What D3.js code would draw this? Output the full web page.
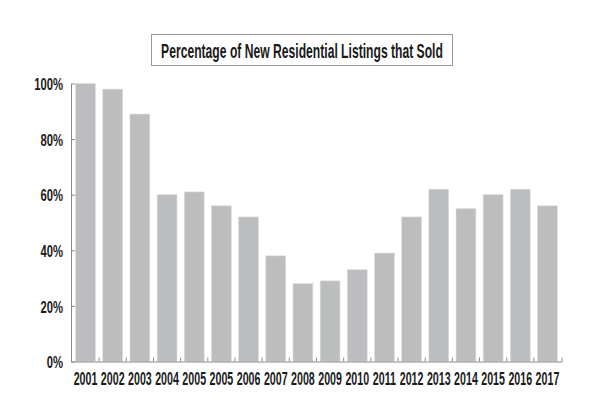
<!DOCTYPE html>
<html>
<head>
<meta charset="utf-8">
<script src="https://cdn.jsdelivr.net/npm/d3@7"></script>
<style>
  html, body { margin: 0; padding: 0; background: #fff; }
  svg { display: block; }
  text { font-family: "Liberation Sans Narrow", "Arial Narrow", sans-serif; fill: #1a1a1a; }
</style>
</head>
<body>
<svg id="chart" width="600" height="400"></svg>
<script>
const title = "Percentage of New Residential Listings that Sold";
const categories = ["2001","2002","2003","2004","2005","2005","2006","2007","2008","2009","2010","2011","2012","2013","2014","2015","2016","2017"];
const values = [100, 98, 89, 60, 61, 56, 52, 38, 28, 29, 33, 39, 52, 62, 55, 60, 62, 56];
const yTicks = [0, 20, 40, 60, 80, 100];

const svg = d3.select("#chart");
const margin = { left: 71, right: 38, top: 83.5, bottom: 38.5 };
const W = 600, H = 400;
const sx = 0.66;
const sxX = 0.61;

const x = d3.scaleBand()
  .domain(d3.range(categories.length))
  .range([margin.left, W - margin.right])
  .paddingInner(0.27)
  .paddingOuter(0.17);

const y = d3.scaleLinear()
  .domain([0, 100])
  .range([H - margin.bottom, margin.top]);

// Title box
const tg = svg.append("g");
tg.append("rect")
  .attr("x", 151.5).attr("y", 34.5)
  .attr("width", 301).attr("height", 31)
  .attr("fill", "#fff").attr("stroke", "#999").attr("stroke-width", 1);
const tt = tg.append("text")
  .attr("x", 0).attr("y", 0)
  .attr("text-anchor", "middle")
  .attr("font-size", 20)
  .attr("font-weight", "bold")
  .text(title);
const tlen = tt.node().getComputedTextLength();
tt.attr("transform", `translate(302,57.7) scale(${282 / tlen},1)`);

// Bars
svg.append("g").selectAll("rect")
  .data(values)
  .join("rect")
  .attr("x", (d, i) => x(i))
  .attr("width", x.bandwidth())
  .attr("y", d => y(d))
  .attr("height", d => y(0) - y(d))
  .attr("fill", "#bcbdbf")
  .attr("stroke", "#dcdcdc")
  .attr("stroke-width", 0.6);

// Y axis
const yAxis = svg.append("g")
  .attr("transform", `translate(${margin.left},0)`)
  .call(d3.axisLeft(y).tickValues(yTicks).tickFormat(d => d + "%").tickSize(-4).tickSizeOuter(0).tickPadding(8));
yAxis.select(".domain").attr("stroke", "#8a8a8a");
yAxis.selectAll(".tick line").attr("stroke", "#8a8a8a");
yAxis.selectAll(".tick text")
  .attr("font-size", 17)
  .attr("font-weight", "bold")
  .attr("font-family", null)
  .attr("fill", "#1a1a1a")
  .attr("x", -8 / sx)
  .attr("dy", "0.36em")
  .attr("transform", `scale(${sx},1)`);

// X axis
const xAxis = svg.append("g")
  .attr("transform", `translate(0,${y(0)})`)
  .call(d3.axisBottom(x).tickFormat(i => categories[i]).tickSize(0).tickSizeOuter(0));
xAxis.select(".domain").attr("stroke", "#8a8a8a");
xAxis.selectAll(".tick text")
  .attr("font-size", 17.5)
  .attr("font-weight", "bold")
  .attr("font-family", null)
  .attr("fill", "#1a1a1a")
  .attr("y", 23.5)
  .attr("dy", null)
  .attr("transform", `scale(${sxX},1)`);

// Boundary ticks between bars (pointing up)
const gap = x.step() * x.paddingInner() / 2;
const bounds = d3.range(1, categories.length).map(i => x(i) - gap);
bounds.push(x.range()[1]);
xAxis.append("g").selectAll("line")
  .data(bounds)
  .join("line")
  .attr("x1", d => d).attr("x2", d => d)
  .attr("y1", 0).attr("y2", -4)
  .attr("stroke", "#8a8a8a");
</script>
</body>
</html>
